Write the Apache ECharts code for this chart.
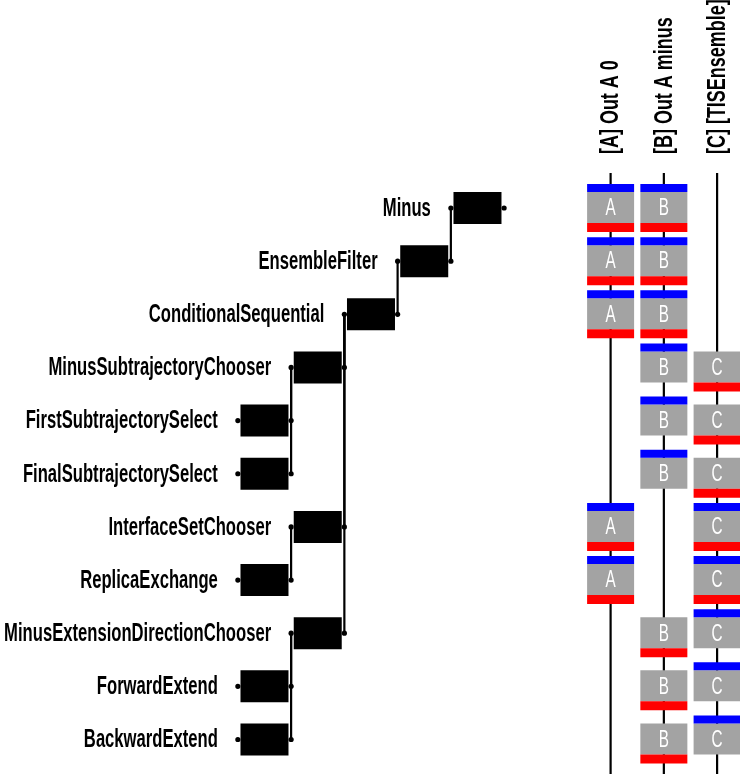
<!DOCTYPE html>
<html><head><meta charset="utf-8">
<script src="https://cdn.jsdelivr.net/npm/echarts@6/dist/echarts.min.js"></script>
<style>html,body{margin:0;padding:0;background:#fff}#c{width:740px;height:774px}</style>
</head><body><div id="c"></div>
<script>
// ---- data ----
const moverNames = ['Minus','EnsembleFilter','ConditionalSequential','MinusSubtrajectoryChooser','FirstSubtrajectorySelect','FinalSubtrajectorySelect','InterfaceSetChooser','ReplicaExchange','MinusExtensionDirectionChooser','ForwardExtend','BackwardExtend'];
const moverDepth  = [0,1,2,3,4,4,3,4,3,4,4];
const moverParent = [-1,0,1,2,3,3,2,6,2,8,8];
const ensembleLabels  = ['[A] Out A 0','[B] Out A minus','[C] [TISEnsemble]'];
const ensembleLetters = ['A','B','C'];
// per mover row: 'tb' = input+output, 't' = input only, 'b' = output only, '' = not involved
const samplesA = ['tb','tb','tb','','','','tb','tb','','',''];
const samplesB = ['tb','tb','tb','t','t','t','','','b','b','b'];
const samplesC = ['','','','b','b','b','tb','tb','t','t','t'];

const FONT_FAMILY = '"Liberation Sans", Arial, sans-serif';
const FONT_WEIGHT = 'bold';
const FONT_SIZE = 25;
// condensed look: compress the text horizontally
const mctx = document.createElement('canvas').getContext('2d');
mctx.font = FONT_WEIGHT + ' ' + FONT_SIZE + 'px ' + FONT_FAMILY;
const TEXT_SCALE = 267 / mctx.measureText('MinusExtensionDirectionChooser').width;

const maxDepth = Math.max(...moverDepth);
const colStart = maxDepth + 2.5;

const moverData = moverNames.map((n, i) => [maxDepth - moverDepth[i], i, i]);
const colData = ensembleLabels.map((l, i) => [colStart + i, 0, i]);
const sampleData = [];
[samplesA, samplesB, samplesC].forEach((arr, ci) => {
  arr.forEach((code, r) => { if (code) sampleData.push([colStart + ci, r, ci, code]); });
});

function txt(x, y, text, align, extra) {
  return Object.assign({type:'text', x:x, y:y, scaleX:TEXT_SCALE,
    style:{text:text, fill:'#000', fontSize:FONT_SIZE, fontWeight:FONT_WEIGHT, fontFamily:FONT_FAMILY, align:align, verticalAlign:'middle'}}, extra || {});
}

function renderMover(params, api) {
  const slot = api.value(0), row = api.value(1), idx = api.value(2);
  const c = api.coord([slot, row]);
  const L = api.coord([slot - 0.5, row]);
  const R = api.coord([slot + 0.5, row]);
  const ch = [];
  const p = moverParent[idx];
  if (p >= 0) {
    const pc = api.coord([slot + 0.5, p]);
    ch.push({type:'line', shape:{x1:R[0], y1:pc[1], x2:R[0], y2:R[1]}, style:{stroke:'#000', lineWidth:2.2}});
  }
  ch.push({type:'rect', shape:{x:c[0]-24, y:c[1]-16, width:48, height:32}, style:{fill:'#000'}});
  ch.push({type:'circle', shape:{cx:L[0], cy:L[1], r:2.6}, style:{fill:'#000'}});
  ch.push({type:'circle', shape:{cx:R[0], cy:R[1], r:2.6}, style:{fill:'#000'}});
  ch.push(txt(L[0]-20, c[1]+1, moverNames[idx], 'right'));
  return {type:'group', children: ch};
}

function renderColumn(params, api) {
  const col = api.value(0), idx = api.value(2);
  const x = api.coord([col, 0])[0];
  return {type:'group', children:[
    {type:'line', shape:{x1:x, y1:173, x2:x, y2:params.coordSys.y + params.coordSys.height}, style:{stroke:'#000', lineWidth:2.2}},
    txt(x+1, 154, ensembleLabels[idx], 'left', {rotation:Math.PI/2, scaleX:TEXT_SCALE*1.08})
  ]};
}

function renderSample(params, api) {
  const col = api.value(0), row = api.value(1), ci = api.value(2);
  const code = sampleData[params.dataIndex][3];
  const c = api.coord([col, row]);
  const x0 = c[0] - 23.5, w = 47;
  const ch = [{type:'rect', shape:{x:x0, y:c[1]-16, width:w, height:31}, style:{fill:'#a3a3a3'}}];
  if (code.indexOf('t') >= 0) ch.push({type:'rect', shape:{x:x0, y:c[1]-24, width:w, height:8}, style:{fill:'#0000ff'}});
  if (code.indexOf('b') >= 0) ch.push({type:'rect', shape:{x:x0, y:c[1]+15, width:w, height:9}, style:{fill:'#ff0000'}});
  const t = txt(c[0], c[1]+1, ensembleLetters[ci], 'center');
  t.style.fill = '#fff'; t.style.fontWeight = 'normal'; t.style.fontSize = 23;
  ch.push(t);
  return {type:'group', children: ch};
}

const chart = echarts.init(document.getElementById('c'), null, {renderer:'canvas'});
chart.setOption({
  animation: false,
  backgroundColor: '#fff',
  grid: {left:0, right:0, top:0, bottom:0},
  xAxis: {type:'value', min:-4.967, max:8.93, show:false},
  yAxis: {type:'value', min:-3.913, max:10.649, inverse:true, show:false},
  series: [
    {type:'custom', renderItem: renderMover, data: moverData, clip:false, z:2},
    {type:'custom', renderItem: renderColumn, data: colData, clip:false, z:1},
    {type:'custom', renderItem: renderSample, data: sampleData.map(d => [d[0], d[1], d[2]]), clip:false, z:3}
  ]
});
</script></body></html>
